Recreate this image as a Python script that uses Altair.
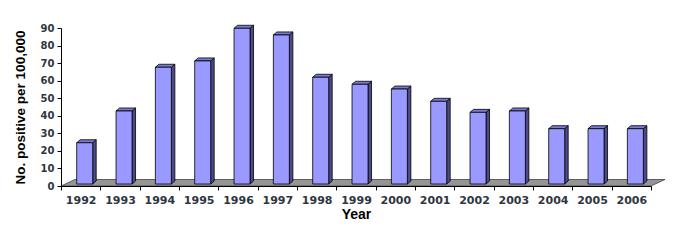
import altair as alt
import pandas as pd

# ---- data ----
years = ["1992", "1993", "1994", "1995", "1996", "1997", "1998", "1999",
         "2000", "2001", "2002", "2003", "2004", "2005", "2006"]
values = [23.5, 41.6, 66.5, 70.1, 88.7, 84.9, 60.8, 56.8,
          54.1, 47.1, 40.8, 41.6, 31.5, 31.5, 31.5]
y_ticks = [0, 10, 20, 30, 40, 50, 60, 70, 80, 90]

# ---- layout / style constants ----
W, H = 590, 158
N = len(years)
YMAX = 90
XS = W / N          # px per category
YS = H / YMAX       # px per unit
FRONT_L, FRONT_R = 15.7, 31.7   # front face left/right inside a slot (px)
BASE = 2.0                      # bar bottom above floor front edge (px)
DX, DY = 3.5, 3.0               # bar depth (px)
FLOOR_DX, FLOOR_DY = 14.0, 6.5  # floor depth (px)

FRONT_C = "#9999ff"
TOP_C = "#7b7bd2"
SIDE_C = "#4b4b8a"
FLOOR_C = "#959595"
LABEL_C = "#2f3640"

front, side, top = [], [], []
for i, (yr, v) in enumerate(zip(years, values)):
    xl = i + FRONT_L / XS
    xr = i + FRONT_R / XS
    b = BASE / YS
    t = b + v
    dx = DX / XS
    dy = DY / YS
    front.append(dict(year=yr, i=i, x=xl, x2=xr, y=b, y2=t, value=v))
    side.append(dict(year=yr, x=xr, y=b, y2=t))
    side.append(dict(year=yr, x=xr + dx, y=b + dy, y2=t + dy))
    top.append(dict(year=yr, y=t, x=xl, x2=xr))
    top.append(dict(year=yr, y=t + dy, x=xl + dx, x2=xr + dx))
floor = [dict(y=0.0, x=0.0, x2=float(N)),
         dict(y=FLOOR_DY / YS, x=FLOOR_DX / XS, x2=N + FLOOR_DX / XS)]

xscale = alt.Scale(domain=[0, N], nice=False, zero=False)
yscale = alt.Scale(domain=[0, YMAX], nice=False)

years_js = "[" + ",".join(f"'{y}'" for y in years) + "]"

x_axis = alt.Axis(values=list(range(N + 1)),
                  labelExpr=f"datum.value < {N} ? {years_js}[datum.value] : ''",
                  labelOffset=XS / 2, labelFlush=False, labelOverlap=False,
                  grid=False, tickSize=4, tickColor="black", domainColor="black",
                  labelFont="DejaVu Sans", labelFontSize=11, labelFontWeight="bold",
                  labelColor=LABEL_C, labelPadding=4,
                  titleFont="Liberation Sans", titleFontSize=14, titleFontWeight="bold",
                  titleColor="black", titlePadding=2, zindex=2)
y_axis = alt.Axis(values=y_ticks, grid=False, tickSize=4, tickColor="black",
                  domainColor="black",
                  labelFont="DejaVu Sans", labelFontSize=10, labelFontWeight="bold",
                  labelColor=LABEL_C, labelPadding=3,
                  titleFont="Liberation Sans", titleFontSize=13.5, titleFontWeight="bold",
                  titleColor="black", titlePadding=13, zindex=2)
X_TITLE = "Year"
Y_TITLE = "No. positive per 100,000"

floor_layer = alt.Chart(pd.DataFrame(floor)).mark_area(
    orient="horizontal", fill=FLOOR_C, stroke="#444444", strokeWidth=0.8
).encode(
    y=alt.Y("y:Q", scale=yscale, axis=y_axis, title=Y_TITLE),
    x=alt.X("x:Q", scale=xscale, axis=x_axis, title=X_TITLE),
    x2="x2:Q",
)

side_layer = alt.Chart(pd.DataFrame(side)).mark_area(
    orient="vertical", fill=SIDE_C, stroke="black", strokeWidth=0.8
).encode(
    x=alt.X("x:Q", scale=xscale, axis=x_axis, title=X_TITLE),
    y=alt.Y("y:Q", scale=yscale, axis=y_axis, title=Y_TITLE),
    y2="y2:Q",
    detail="year:N",
)

top_layer = alt.Chart(pd.DataFrame(top)).mark_area(
    orient="horizontal", fill=TOP_C, stroke="black", strokeWidth=0.8
).encode(
    y=alt.Y("y:Q", scale=yscale, axis=y_axis, title=Y_TITLE),
    x=alt.X("x:Q", scale=xscale, axis=x_axis, title=X_TITLE),
    x2="x2:Q",
    detail="year:N",
)

front_layer = alt.Chart(pd.DataFrame(front)).mark_rect(
    fill=FRONT_C, stroke="black", strokeWidth=0.8
).encode(
    x=alt.X("x:Q", scale=xscale, axis=x_axis, title=X_TITLE),
    x2="x2:Q",
    y=alt.Y("y:Q", scale=yscale, axis=y_axis, title=Y_TITLE),
    y2="y2:Q",
)

chart = alt.layer(floor_layer, side_layer, top_layer, front_layer).properties(
    width=W, height=H,
    background="white",
    autosize=alt.AutoSizeParams(type="none"),
    padding={"left": 53, "top": 20, "right": 25, "bottom": 40},
).configure_view(strokeWidth=0)

chart.save("out.html", embed_options={"renderer": "svg", "actions": False})
